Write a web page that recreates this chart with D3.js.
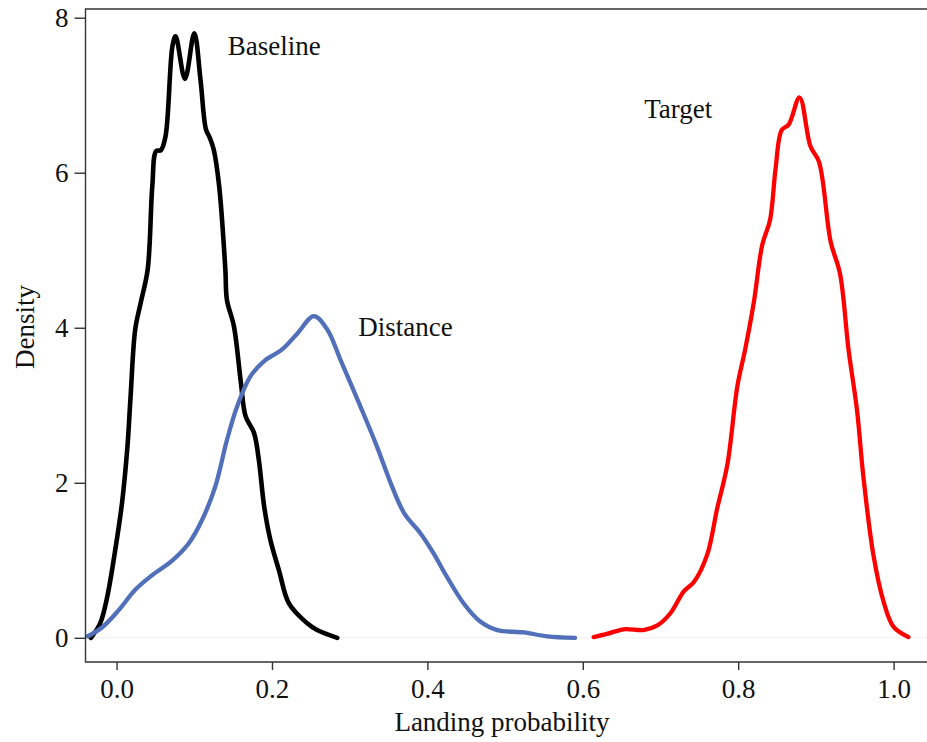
<!DOCTYPE html>
<html>
<head>
<meta charset="utf-8">
<script src="https://cdn.jsdelivr.net/npm/d3@7"></script>
<style>
  html, body { margin: 0; padding: 0; background: #fff; }
  svg { display: block; }
  text { font-family: "Liberation Serif", "DejaVu Serif", serif; fill: #111; }
</style>
</head>
<body>
<svg id="chart" width="927" height="742"></svg>
<script>
// ---- Data ----
const baselineX = [-0.033,-0.021,-0.012,-0.001,0.007,0.014,0.018,0.024,0.031,0.040,0.046,0.051,0.057,0.063,0.072,0.076,0.088,0.100,0.108,0.115,0.120,0.125,0.132,0.140,0.142,0.151,0.160,0.166,0.177,0.183,0.190,0.198,0.209,0.222,0.245,0.258,0.284];
const baselineY = [0.00,0.19,0.53,1.18,1.74,2.47,3.11,3.98,4.32,4.75,5.83,6.28,6.29,6.47,7.64,7.76,7.21,7.80,7.20,6.56,6.45,6.30,5.83,4.75,4.36,4.02,3.29,2.86,2.64,2.30,1.69,1.26,0.87,0.44,0.19,0.10,0.00];

const distanceX = [-0.037,-0.018,0.003,0.024,0.046,0.072,0.093,0.110,0.127,0.142,0.155,0.172,0.190,0.213,0.233,0.254,0.271,0.288,0.314,0.335,0.353,0.370,0.391,0.408,0.425,0.447,0.468,0.490,0.524,0.554,0.590];
const distanceY = [0.02,0.14,0.36,0.62,0.81,1.00,1.22,1.52,1.95,2.55,2.98,3.37,3.57,3.72,3.93,4.15,3.98,3.59,2.98,2.47,1.99,1.61,1.35,1.09,0.79,0.44,0.21,0.10,0.07,0.02,0.00];

const targetX = [0.614,0.631,0.653,0.678,0.696,0.713,0.730,0.743,0.760,0.773,0.786,0.799,0.809,0.820,0.831,0.841,0.848,0.856,0.865,0.879,0.893,0.904,0.919,0.931,0.942,0.953,0.961,0.974,0.987,1.000,1.019];
const targetY = [0.01,0.05,0.11,0.10,0.16,0.32,0.60,0.72,1.07,1.67,2.23,3.25,3.72,4.32,5.07,5.39,6.04,6.55,6.62,6.97,6.34,6.14,5.11,4.70,3.72,2.93,2.09,1.07,0.47,0.14,0.01];

const seriesNames = ["Baseline", "Distance", "Target"];
const xTicks = [0.0, 0.2, 0.4, 0.6, 0.8, 1.0];
const yTicks = [0, 2, 4, 6, 8];
const xTitle = "Landing probability";
const yTitle = "Density";

// ---- Layout ----
const svg = d3.select("#chart");
const plotLeft = 85.5, plotRight = 927, plotTop = 9, plotBottom = 662;
const fs = 27;

const x = d3.scaleLinear().domain([-0.04, 1.043]).range([plotLeft, plotRight]);
const y = d3.scaleLinear().domain([-0.312, 8.112]).range([plotBottom, plotTop]);

const series = [
  { name: seriesNames[0], xs: baselineX, ys: baselineY, color: "#000000", width: 4.6, label: [0.143, 7.52] },
  { name: seriesNames[1], xs: distanceX, ys: distanceY, color: "#5170b9", width: 4.3, label: [0.311, 3.90] },
  { name: seriesNames[2], xs: targetX,  ys: targetY,  color: "#ff0000", width: 4.3, label: [0.679, 6.70] }
];

// faint zero line
svg.append("line")
  .attr("x1", plotLeft).attr("x2", plotRight)
  .attr("y1", y(0)).attr("y2", y(0))
  .attr("stroke", "#eeeeee").attr("stroke-width", 1);

// curves
const line = d3.line()
  .x(d => x(d[0])).y(d => y(d[1]))
  .curve(d3.curveCatmullRom.alpha(0.5));

series.forEach(s => {
  const pts = s.xs.map((v, i) => [v, s.ys[i]]);
  svg.append("path")
    .datum(pts)
    .attr("d", line)
    .attr("fill", "none")
    .attr("stroke", s.color)
    .attr("stroke-width", s.width)
    .attr("stroke-linejoin", "round")
    .attr("stroke-linecap", "round");
});

// box (top, left, bottom; right edge lies off canvas)
svg.append("path")
  .attr("d", `M${plotRight + 5},${plotTop}H${plotLeft}V${plotBottom}H${plotRight + 5}`)
  .attr("fill", "none").attr("stroke", "#333").attr("stroke-width", 1.4);

// axes
const yAxis = d3.axisLeft(y).tickValues(yTicks).tickFormat(d3.format("d"))
  .tickSize(11).tickPadding(6).tickSizeOuter(0);
const gy = svg.append("g").attr("transform", `translate(${plotLeft},0)`).call(yAxis);
gy.select(".domain").remove();
gy.selectAll(".tick line").attr("stroke", "#333").attr("stroke-width", 1.4);
gy.selectAll(".tick text").attr("font-size", fs).attr("font-family", "Liberation Serif, serif").attr("fill", "#111");

const xAxis = d3.axisBottom(x).tickValues(xTicks).tickFormat(d3.format(".1f"))
  .tickSize(8).tickPadding(9).tickSizeOuter(0);
const gx = svg.append("g").attr("transform", `translate(0,${plotBottom})`).call(xAxis);
gx.select(".domain").remove();
gx.selectAll(".tick line").attr("stroke", "#333").attr("stroke-width", 1.4);
gx.selectAll(".tick text").attr("font-size", fs).attr("font-family", "Liberation Serif, serif").attr("fill", "#111");

// series labels
series.forEach(s => {
  svg.append("text")
    .attr("x", x(s.label[0])).attr("y", y(s.label[1]))
    .attr("font-size", fs)
    .text(s.name);
});

// axis titles
svg.append("text")
  .attr("x", 502).attr("y", 731)
  .attr("text-anchor", "middle").attr("font-size", fs)
  .text(xTitle);

svg.append("text")
  .attr("transform", "translate(34,327) rotate(-90)")
  .attr("text-anchor", "middle").attr("font-size", fs)
  .text(yTitle);
</script>
</body>
</html>
